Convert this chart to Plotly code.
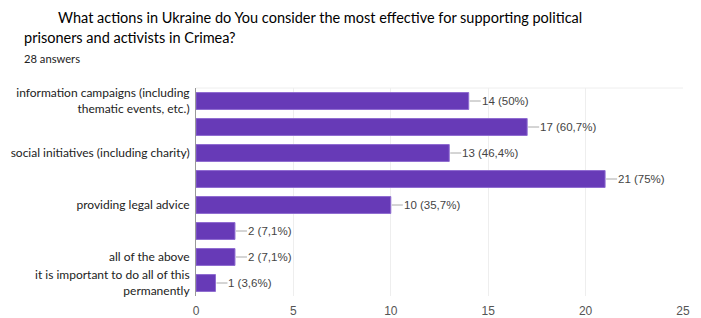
import plotly.graph_objects as go

categories = [
    "information campaigns (including<br>thematic events, etc.)",
    "",
    "social initiatives (including charity)",
    "",
    "providing legal advice",
    "",
    "all of the above",
    "it is important to do all of this<br>permanently",
]
values = [14, 17, 13, 21, 10, 2, 2, 1]
total_answers = 28
x_ticks = [0, 5, 10, 15, 20, 25]

title_line1 = "What actions in Ukraine do You consider the most effective for supporting political"
title_line2 = "prisoners and activists in Crimea?"
subtitle = "28 answers"


def pct_label(v):
    p = round(v / total_answers * 100, 1)
    s = f"{p:.1f}".replace(".", ",")
    if s.endswith(",0"):
        s = s[:-2]
    return f"{v} ({s}%)"


W, H = 701, 318
L, R, T, B = 196, 18, 88, 22
PW, PH = W - L - R, H - T - B

def px_x(px):
    return (px - L) / PW

def px_y(py):
    return (H - B - py) / PH

idx = list(range(len(values)))

fig = go.Figure()
fig.add_trace(go.Bar(
    x=values, y=idx, orientation="h",
    marker=dict(color="#673ab7", line=dict(color="#8e6bd0", width=1)),
    hoverinfo="skip",
))

shapes = []
annotations = []
for i, v in zip(idx, values):
    shapes.append(dict(type="line", xref="x", yref="y", xsizemode="pixel",
                       xanchor=v, x0=1, x1=12, y0=i, y1=i,
                       line=dict(color="#aaaaaa", width=1)))
    annotations.append(dict(x=v, y=i, xref="x", yref="y", text=pct_label(v),
                            showarrow=False, xanchor="left", yanchor="middle",
                            xshift=11, font=dict(family="Liberation Sans", size=11.5, color="#444444")))

shapes.append(dict(type="line", xref="paper", yref="paper", x0=0, x1=1, y0=1, y1=1,
                   line=dict(color="#eeeeee", width=1)))

annotations += [
    dict(text=title_line1, xref="paper", yref="paper", x=px_x(56), y=px_y(17),
         xanchor="left", yanchor="middle", showarrow=False,
         font=dict(family="Lato", size=14.5, color="#000000")),
    dict(text=title_line2, xref="paper", yref="paper", x=px_x(22), y=px_y(37),
         xanchor="left", yanchor="middle", showarrow=False,
         font=dict(family="Lato", size=14.5, color="#000000")),
    dict(text=subtitle, xref="paper", yref="paper", x=px_x(22), y=px_y(58),
         xanchor="left", yanchor="middle", showarrow=False,
         font=dict(family="Lato", size=11.2, color="#222222")),
]

fig.update_layout(
    width=W, height=H,
    margin=dict(l=L, r=R, t=T, b=B, pad=0, autoexpand=False),
    paper_bgcolor="white", plot_bgcolor="white",
    bargap=0.35, showlegend=False,
    shapes=shapes, annotations=annotations,
    xaxis=dict(range=[0, 25], tickvals=x_ticks, showgrid=True, gridcolor="#eeeeee",
               zeroline=False, showline=False, ticks="", automargin=False,
               ticklabelstandoff=6,
               tickfont=dict(family="Liberation Sans", size=12, color="#555555")),
    yaxis=dict(tickvals=idx, ticktext=categories, autorange="reversed",
               showgrid=False, zeroline=False, showline=True, linecolor="#999999",
               linewidth=1, ticks="", ticklabelstandoff=3, automargin=False,
               tickfont=dict(family="Lato", size=12, color="#222222")),
)

fig.write_html("out.html", config={"displayModeBar": False},
               post_script="document.body.style.margin='0';document.body.style.padding='0';")
